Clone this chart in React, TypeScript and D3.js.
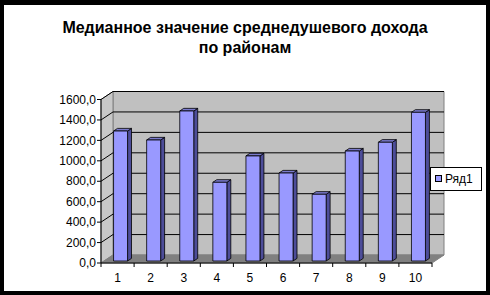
import React from "react";
import * as d3 from "d3";

const categories = ["1", "2", "3", "4", "5", "6", "7", "8", "9", "10"];
const values = [1272, 1184, 1468, 770, 1028, 861, 653, 1076, 1162, 1455];
const yTicks = [0, 200, 400, 600, 800, 1000, 1200, 1400, 1600];
const seriesName = "Ряд1";
const titleLines = ["Медианное значение среднедушевого дохода", "по районам"];

const W = 490;
const H = 295;
const X0 = 101;
const X1 = 432;
const Y0 = 263;
const YTOP = 99.5;
const DX = 12;
const DY = 8;
const FONT = "'Liberation Sans', Arial, sans-serif";

export default function App() {
  const x = d3.scaleBand<string>().domain(categories).range([X0, X1]).paddingInner(0).paddingOuter(0);
  const y = d3.scaleLinear().domain([0, 1600]).range([Y0, YTOP]);
  const P = (px: number, py: number, d: number) => [px + d * DX, py - d * DY];
  const poly = (pts: number[][]) => pts.map((p) => p.join(",")).join(" ");
  const fmt = (v: number) => d3.format(".1f")(v).replace(".", ",");

  const barW = 14;
  const dA = 0.25;
  const dB = 0.58;

  return (
    <svg width={W} height={H} style={{ position: "absolute", left: 0, top: 0 }} fontFamily={FONT}>
      <rect x={0} y={0} width={W} height={H} fill="#000" />
      <rect x={4} y={5} width={482} height={286} fill="#fff" />
      {titleLines.map((t, i) => (
        <text key={i} x={245} y={33 + i * 20} textAnchor="middle" fontSize={16} fontWeight="bold" fill="#000">
          {t}
        </text>
      ))}
      {/* back wall */}
      <polygon
        points={poly([P(X0, Y0, 1), P(X1, Y0, 1), P(X1, YTOP, 1), P(X0, YTOP, 1)])}
        fill="#c0c0c0"
        stroke="#808080"
        strokeWidth={1}
      />
      {/* side wall */}
      <polygon
        points={poly([[X0, Y0], P(X0, Y0, 1), P(X0, YTOP, 1), [X0, YTOP]])}
        fill="#c8c8c8"
        stroke="#808080"
        strokeWidth={1}
      />
      {/* floor */}
      <polygon
        points={poly([[X0, Y0], [X1, Y0], P(X1, Y0, 1), P(X0, Y0, 1)])}
        fill="#808080"
        stroke="#808080"
        strokeWidth={1}
      />
      {/* gridlines */}
      {yTicks.slice(1).map((t) => {
        const a = P(X0, y(t), 0);
        const b = P(X0, y(t), 1);
        const c = P(X1, y(t), 1);
        return (
          <polyline key={t} points={poly([a, b, c])} fill="none" stroke="#000" strokeWidth={1} />
        );
      })}
      {/* y axis */}
      <line x1={X0} y1={Y0} x2={X0} y2={YTOP} stroke="#000" />
      {yTicks.map((t) => (
        <g key={t}>
          <line x1={X0 - 4} x2={X0} y1={y(t)} y2={y(t)} stroke="#000" />
          <text x={96} y={y(t)} dy="0.35em" textAnchor="end" fontSize={12} fill="#000">
            {fmt(t)}
          </text>
        </g>
      ))}
      {/* x axis */}
      <line x1={X0} y1={Y0} x2={X1} y2={Y0} stroke="#000" />
      {categories.map((c) => (
        <line key={c} x1={x(c)!} x2={x(c)!} y1={Y0} y2={Y0 + 4} stroke="#000" />
      ))}
      <line x1={X1} x2={X1} y1={Y0} y2={Y0 + 4} stroke="#000" />
      {categories.map((c) => (
        <text key={c} x={x(c)! + x.bandwidth() / 2} y={282} textAnchor="middle" fontSize={12} fill="#000">
          {c}
        </text>
      ))}
      {/* bars */}
      {categories.map((c, i) => {
        const cx = x(c)! + x.bandwidth() / 2;
        const l = cx - barW / 2;
        const r = cx + barW / 2;
        const yb = Y0;
        const yt = y(values[i]);
        const front = [P(l, yb, dA), P(r, yb, dA), P(r, yt, dA), P(l, yt, dA)];
        const side = [P(r, yb, dA), P(r, yb, dB), P(r, yt, dB), P(r, yt, dA)];
        const top = [P(l, yt, dA), P(r, yt, dA), P(r, yt, dB), P(l, yt, dB)];
        return (
          <g key={c} stroke="#000" strokeWidth={0.8} strokeLinejoin="round">
            <polygon points={poly(side)} fill="#4d4d99" />
            <polygon points={poly(top)} fill="#7a7acc" />
            <polygon points={poly(front)} fill="#9999ff" />
          </g>
        );
      })}
      {/* legend */}
      <rect x={430.5} y={167.5} width={51} height={23} fill="#fff" stroke="#000" />
      <rect x={435.5} y={175.5} width={6} height={6} fill="#9999ff" stroke="#000" />
      <text x={445} y={183} fontSize={12} fill="#000">
        {seriesName}
      </text>
    </svg>
  );
}
